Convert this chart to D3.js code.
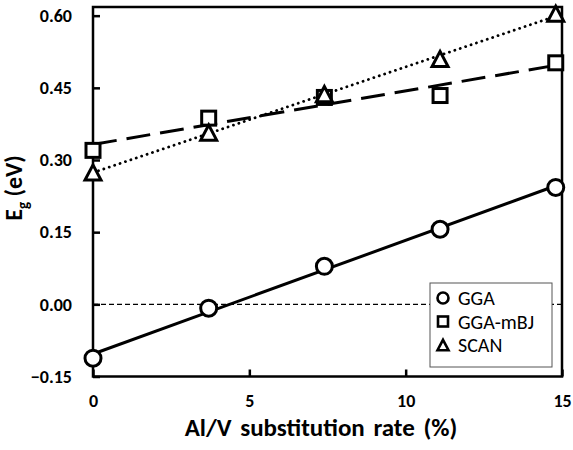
<!DOCTYPE html>
<html>
<head>
<meta charset="utf-8">
<script src="https://cdn.jsdelivr.net/npm/d3@7"></script>
<style>
  body { margin: 0; background: #fff; }
  text { font-family: Carlito, "Open Sans", "Liberation Sans", sans-serif; }
</style>
</head>
<body>
<div id="chart"></div>
<script>
// substitution rate (%)
var rates = [0, 3.7, 7.4, 11.1, 14.8];
// band gaps (eV)
var gga  = [-0.112, -0.008, 0.079, 0.156, 0.243];
var mbj  = [0.320, 0.387, 0.430, 0.434, 0.502];
var scan = [0.274, 0.357, 0.437, 0.510, 0.604];

var xTicks = [0, 5, 10, 15];
var yTicks = [-0.15, 0.00, 0.15, 0.30, 0.45, 0.60];

var series = [
    {name: "GGA", values: gga, marker: "circle", dash: null},
    {name: "GGA-mBJ", values: mbj, marker: "square", dash: "24,10"},
    {name: "SCAN", values: scan, marker: "triangle", dash: "0.1,5.6"}
];

var width = 573, height = 450;
var margin = {top: 7, right: 11, bottom: 73, left: 93};

var svg = d3.select("#chart").append("svg")
    .attr("width", width)
    .attr("height", height);

var x = d3.scaleLinear().domain([0, 15]).range([margin.left, width - margin.right]);
var y = d3.scaleLinear().domain([-0.15, 0.618]).range([height - margin.bottom - 0.5, margin.top]);

// least squares fit, like the spreadsheet trendline
function fit(vals) {
    var mx = d3.mean(rates), my = d3.mean(vals);
    var num = d3.sum(rates, function(r, i) { return (r - mx) * (vals[i] - my); });
    var den = d3.sum(rates, function(r) { return (r - mx) * (r - mx); });
    var b = num / den;
    return {a: my - b * mx, b: b};
}

// zero line
svg.append("line")
    .attr("x1", x(0)).attr("x2", x(15))
    .attr("y1", y(0)).attr("y2", y(0))
    .attr("stroke", "#000").attr("stroke-width", 1.3)
    .attr("stroke-dasharray", "5,3");

// frame
svg.append("rect")
    .attr("x", x(0)).attr("y", margin.top)
    .attr("width", x(15) - x(0))
    .attr("height", y(-0.15) - margin.top)
    .attr("fill", "none").attr("stroke", "#000").attr("stroke-width", 2.5);

// axes
var yAxis = d3.axisLeft(y).tickValues(yTicks).tickSize(-7).tickPadding(21)
    .tickFormat(d3.format(".2f"));
var xAxis = d3.axisBottom(x).tickValues(xTicks).tickSize(-7).tickPadding(18)
    .tickFormat(d3.format("d"));

var gy = svg.append("g").attr("transform", "translate(" + x(0) + ",0)").call(yAxis);
var gx = svg.append("g").attr("transform", "translate(0," + y(-0.15) + ")").call(xAxis);

[gx, gy].forEach(function(g) {
    g.select(".domain").remove();
    g.selectAll(".tick line").attr("stroke", "#000").attr("stroke-width", 2.5);
    g.selectAll(".tick text").attr("fill", "#000")
        .style("font-size", "18px").style("font-weight", "bold");
});

// trend lines
series.forEach(function(s) {
    var f = fit(s.values);
    var x0 = rates[0], x1 = rates[rates.length - 1];
    svg.append("line")
        .attr("x1", x(x0)).attr("y1", y(f.a + f.b * x0))
        .attr("x2", x(x1)).attr("y2", y(f.a + f.b * x1))
        .attr("stroke", "#000")
        .attr("stroke-width", s.dash == "0.1,5.6" ? 2.8 : 3)
        .attr("stroke-linecap", s.dash == "0.1,5.6" ? "round" : "butt")
        .attr("stroke-dasharray", s.dash);
});

function drawMarker(g, type, cx, cy, size, sw) {
    if (type == "circle") {
        g.append("circle").attr("cx", cx).attr("cy", cy).attr("r", size / 2)
            .attr("fill", "#fff").attr("stroke", "#000").attr("stroke-width", sw);
    } else if (type == "square") {
        g.append("rect").attr("x", cx - size / 2).attr("y", cy - size / 2)
            .attr("width", size).attr("height", size)
            .attr("fill", "#fff").attr("stroke", "#000").attr("stroke-width", sw);
    } else {
        var h = size * 0.95;
        g.append("path")
            .attr("d", "M" + cx + "," + (cy - h / 2) + "L" + (cx + size / 2) + "," + (cy + h / 2) +
                "L" + (cx - size / 2) + "," + (cy + h / 2) + "Z")
            .attr("fill", "#fff").attr("stroke", "#000").attr("stroke-width", sw)
            .attr("stroke-linejoin", "miter");
    }
}

// markers
var gm = svg.append("g");
series.forEach(function(s) {
    s.values.forEach(function(v, i) {
        drawMarker(gm, s.marker, x(rates[i]), y(v), s.marker == "square" ? 14 : 16, 3);
    });
});

// legend
var lg = svg.append("g");
lg.append("rect")
    .attr("x", 430).attr("y", 283).attr("width", 122).attr("height", 84)
    .attr("fill", "#fff").attr("stroke", "#555").attr("stroke-width", 1);
series.forEach(function(s, i) {
    var cy = 298 + i * 23.5;
    drawMarker(lg, s.marker, 443, cy, s.marker == "square" ? 10 : 11, 2.6);
    lg.append("text")
        .attr("x", 458).attr("y", cy).attr("dy", "0.35em")
        .style("font-size", "20px").text(s.name);
});

// axis titles
svg.append("text")
    .attr("x", 321).attr("y", 436)
    .attr("text-anchor", "middle")
    .style("font-size", "25px").style("font-weight", "bold")
    .style("word-spacing", "3px")
    .text("Al/V substitution rate (%)");

var yt = svg.append("text")
    .attr("transform", "translate(22,188) rotate(-90)")
    .attr("text-anchor", "middle")
    .style("font-size", "24px").style("font-weight", "bold");
yt.append("tspan").text("E");
yt.append("tspan").attr("dy", 6).style("font-size", "15px").text("g");
yt.append("tspan").attr("dy", -6).text(" (eV)");
</script>
</body>
</html>
